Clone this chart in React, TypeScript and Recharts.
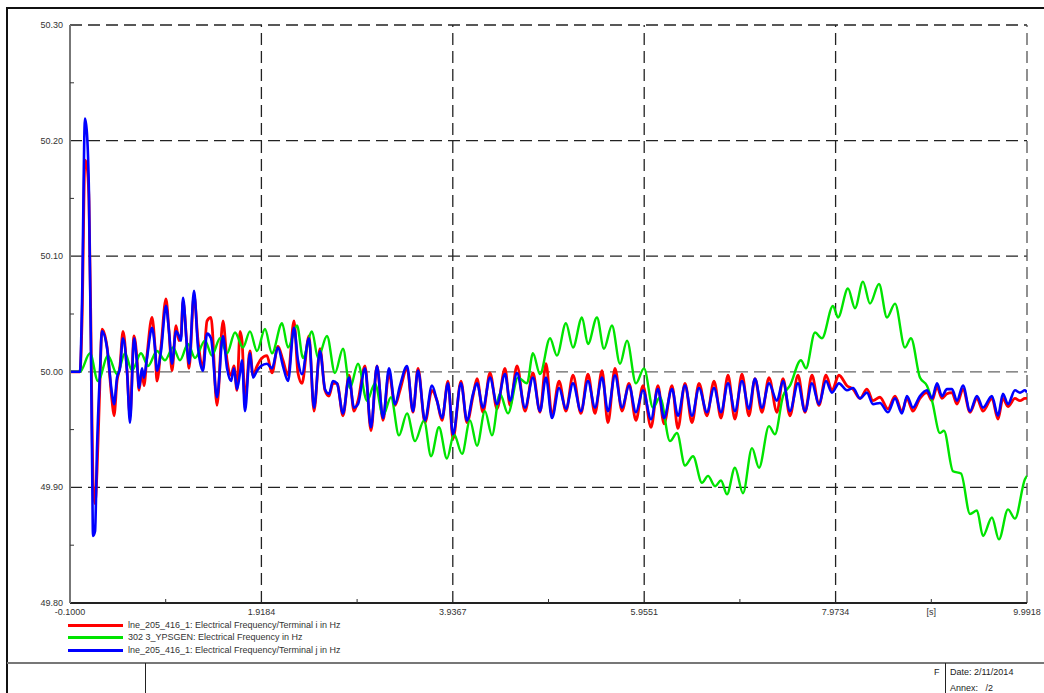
import { LineChart, Line, XAxis, YAxis, ReferenceLine } from "recharts";

// time stamps [s] of the traced extrema, shared by the two line terminals
const rbTime = [
  -0.1, 0.005, 0.027, 0.058, 0.079, 0.1, 0.121, 0.132, 0.143, 0.164,
  0.185, 0.216, 0.237, 0.29, 0.343, 0.364, 0.396, 0.427, 0.459, 0.501,
  0.533, 0.575, 0.607, 0.628, 0.659, 0.68, 0.712, 0.765, 0.796, 0.817,
  0.86, 0.912, 0.944, 0.976, 1.018, 1.049, 1.07, 1.092, 1.134, 1.155,
  1.208, 1.25, 1.302, 1.345, 1.387, 1.45, 1.513, 1.556, 1.598, 1.629,
  1.661, 1.693, 1.714, 1.745, 1.798, 1.83, 1.872, 1.914, 1.977, 2.03,
  2.093, 2.146, 2.199, 2.262, 2.304, 2.346, 2.42, 2.473, 2.536, 2.589,
  2.631, 2.673, 2.716, 2.779, 2.842, 2.895, 2.937, 3.011, 3.074, 3.137,
  3.201, 3.264, 3.327, 3.38, 3.454, 3.517, 3.57, 3.643, 3.717, 3.77,
  3.823, 3.886, 3.939, 4.023, 4.086, 4.15, 4.192, 4.255, 4.329, 4.403,
  4.487, 4.54, 4.614, 4.698, 4.782, 4.856, 4.919, 4.983, 5.057, 5.13,
  5.204, 5.288, 5.362, 5.436, 5.51, 5.573, 5.647, 5.721, 5.795, 5.868,
  5.942, 6.027, 6.1, 6.164, 6.248, 6.311, 6.385, 6.459, 6.533, 6.617,
  6.691, 6.765, 6.839, 6.912, 6.986, 7.06, 7.123, 7.197, 7.271, 7.355,
  7.419, 7.492, 7.577, 7.651, 7.724, 7.798, 7.872, 7.935, 8.009, 8.093,
  8.157, 8.231, 8.304, 8.368, 8.441, 8.526, 8.6, 8.673, 8.726, 8.789,
  8.863, 8.937, 8.99, 9.043, 9.095, 9.148, 9.201, 9.253, 9.317, 9.391,
  9.464, 9.528, 9.622, 9.686, 9.738, 9.791, 9.865, 9.918, 9.97, 9.992,
];

// lne_205_416_1, terminal i [Hz]
const redHz = [
  50.0, 50.0, 50.044, 50.183, 50.178, 50.148, 50.035, 49.958, 49.906, 49.886,
  49.914, 49.992, 50.037, 50.022, 49.975, 49.962, 49.992, 50.005, 50.035, 50.001,
  49.962, 50.031, 50.01, 49.984, 50.001, 49.988, 50.014, 50.047, 50.022, 49.992,
  50.022, 50.063, 50.035, 50.001, 50.04, 50.027, 50.031, 50.061, 50.022, 50.003,
  50.066, 50.027, 50.005, 50.044, 50.047, 49.971, 50.044, 50.01, 49.997, 50.005,
  49.984, 50.035, 50.027, 49.975, 50.018, 49.997, 50.005, 50.011, 50.014, 49.999,
  50.022, 50.01, 49.997, 50.044, 49.999, 49.99, 50.031, 49.966, 50.02, 49.984,
  49.979, 49.99, 49.99, 49.962, 49.997, 49.966, 49.975, 50.005, 49.949, 50.005,
  49.958, 49.999, 49.971, 49.984, 50.003, 49.965, 50.003, 49.956, 49.984, 49.975,
  49.958, 49.992, 49.942, 49.992, 49.956, 49.979, 49.994, 49.965, 49.999, 49.968,
  50.003, 49.971, 50.005, 49.966, 49.999, 49.965, 50.007, 49.962, 49.992, 49.966,
  49.997, 49.964, 49.998, 49.964, 50.001, 49.956, 50.003, 49.966, 49.99, 49.958,
  49.988, 49.952, 49.988, 49.955, 49.988, 49.951, 49.99, 49.956, 49.99, 49.962,
  49.992, 49.96, 49.997, 49.959, 49.998, 49.962, 49.994, 49.965, 49.995, 49.965,
  49.994, 49.962, 49.997, 49.965, 49.997, 49.971, 49.997, 49.984, 49.997, 49.988,
  49.985, 49.977, 49.985, 49.975, 49.978, 49.968, 49.979, 49.966, 49.977, 49.966,
  49.977, 49.982, 49.975, 49.987, 49.977, 49.981, 49.982, 49.972, 49.985, 49.965,
  49.977, 49.966, 49.977, 49.959, 49.977, 49.97, 49.977, 49.975, 49.977, 49.977,
];

// lne_205_416_1, terminal j [Hz]
const blueHz = [
  50.0, 50.0, 50.061, 50.219, 50.206, 50.154, 50.018, 49.932, 49.858, 49.862,
  49.934, 50.0, 50.035, 50.021, 49.981, 49.972, 49.995, 50.003, 50.029, 50.001,
  49.956, 50.029, 50.007, 49.986, 50.003, 49.995, 50.012, 50.038, 50.021, 50.001,
  50.018, 50.057, 50.035, 50.007, 50.035, 50.031, 50.027, 50.064, 50.021, 50.007,
  50.07, 50.021, 50.001, 50.033, 50.029, 49.978, 50.031, 50.003, 49.992, 50.003,
  49.985, 49.999, 50.01, 49.966, 50.016, 49.995, 50.001, 50.005, 50.007, 50.003,
  50.021, 50.005, 49.992, 50.038, 50.01, 49.998, 50.029, 49.969, 50.018, 49.985,
  49.981, 49.992, 49.99, 49.964, 49.995, 49.969, 49.972, 50.003, 49.952, 50.005,
  49.96, 50.003, 49.972, 49.988, 50.005, 49.966, 50.001, 49.958, 49.988, 49.975,
  49.96, 49.99, 49.946, 49.99, 49.958, 49.981, 49.99, 49.969, 49.995, 49.972,
  49.998, 49.975, 49.999, 49.969, 49.995, 49.966, 49.995, 49.96, 49.986, 49.968,
  49.99, 49.966, 49.992, 49.969, 49.995, 49.966, 49.997, 49.969, 49.988, 49.965,
  49.984, 49.959, 49.985, 49.96, 49.985, 49.962, 49.988, 49.962, 49.986, 49.965,
  49.986, 49.965, 49.99, 49.966, 49.992, 49.968, 49.994, 49.969, 49.99, 49.975,
  49.992, 49.966, 49.99, 49.966, 49.99, 49.972, 49.992, 49.982, 49.99, 49.984,
  49.986, 49.977, 49.982, 49.972, 49.973, 49.965, 49.977, 49.964, 49.979, 49.969,
  49.979, 49.984, 49.977, 49.99, 49.979, 49.985, 49.985, 49.975, 49.988, 49.966,
  49.979, 49.969, 49.979, 49.962, 49.981, 49.972, 49.984, 49.982, 49.984, 49.982,
];

// 302 3_YPSGEN
const greenTime = [
  -0.1, 0.005, 0.111, 0.195, 0.301, 0.396, 0.48, 0.554, 0.649, 0.723,
  0.817, 0.902, 0.986, 1.06, 1.144, 1.218, 1.324, 1.397, 1.482, 1.556,
  1.64, 1.724, 1.798, 1.872, 1.956, 2.03, 2.136, 2.199, 2.294, 2.357,
  2.452, 2.515, 2.61, 2.694, 2.779, 2.853, 2.937, 3.032, 3.116, 3.201,
  3.285, 3.369, 3.454, 3.538, 3.633, 3.707, 3.791, 3.875, 3.949, 4.034,
  4.118, 4.192, 4.276, 4.35, 4.434, 4.519, 4.624, 4.719, 4.782, 4.856,
  4.962, 5.035, 5.13, 5.204, 5.299, 5.362, 5.457, 5.531, 5.615, 5.7,
  5.774, 5.868, 5.953, 6.048, 6.122, 6.227, 6.301, 6.385, 6.47, 6.564,
  6.628, 6.702, 6.765, 6.828, 6.912, 6.997, 7.092, 7.166, 7.271, 7.334,
  7.419, 7.492, 7.608, 7.661, 7.756, 7.83, 7.946, 7.999, 8.104, 8.178,
  8.262, 8.336, 8.431, 8.515, 8.6, 8.705, 8.768, 8.863, 8.937, 8.99,
  9.074, 9.116, 9.211, 9.296, 9.391, 9.464, 9.528, 9.622, 9.696, 9.791,
  9.865, 9.97, 9.992,
];

const greenHz = [
  50.0, 50.0, 50.016, 49.992, 50.014, 49.998, 50.016, 50.001, 50.016, 50.005,
  50.018, 50.01, 50.021, 50.01, 50.024, 50.012, 50.027, 50.014, 50.029, 50.016,
  50.034, 50.021, 50.035, 50.018, 50.037, 50.016, 50.042, 50.021, 50.04, 50.012,
  50.035, 50.012, 50.031, 49.999, 50.02, 49.986, 50.007, 49.975, 49.99, 49.962,
  49.978, 49.945, 49.964, 49.94, 49.958, 49.927, 49.952, 49.925, 49.946, 49.929,
  49.958, 49.936, 49.966, 49.945, 49.981, 49.964, 49.995, 49.99, 50.016, 49.998,
  50.029, 50.014, 50.042, 50.021, 50.047, 50.024, 50.047, 50.02, 50.04, 50.007,
  50.027, 49.99, 50.003, 49.969, 49.978, 49.94, 49.947, 49.919, 49.927, 49.904,
  49.91, 49.901, 49.906, 49.894, 49.917, 49.895, 49.934, 49.917, 49.953, 49.946,
  49.979, 49.988, 50.01, 50.003, 50.034, 50.029, 50.057, 50.047, 50.072, 50.055,
  50.078, 50.059, 50.076, 50.047, 50.059, 50.021, 50.029, 49.995, 49.988, 49.975,
  49.947, 49.949, 49.914, 49.912, 49.877, 49.88, 49.858, 49.874, 49.855, 49.881,
  49.873, 49.907, 49.91,
];

const xMajor = [-0.1, 1.9184, 3.9367, 5.9551, 7.9734, 9.9918];
const xMinor = [0.9092, 2.9276, 4.9459, 6.9643, 8.9826];
const yMajor = [49.8, 49.9, 50.0, 50.1, 50.2, 50.3];
const yMinor = [49.85, 49.95, 50.05, 50.15, 50.25];
const xUnit = "[s]";

const legendNames = [
  "lne_205_416_1: Electrical Frequency/Terminal i in Hz",
  "302 3_YPSGEN: Electrical Frequency in Hz",
  "lne_205_416_1: Electrical Frequency/Terminal j in Hz",
];
const legendColors = ["#ff0000", "#00e400", "#0000ff"];

const FONT = "'Liberation Sans', Arial, sans-serif";

const redData = rbTime.map((t, i) => ({ t, v: redHz[i] }));
const blueData = rbTime.map((t, i) => ({ t, v: blueHz[i] }));
const greenData = greenTime.map((t, i) => ({ t, v: greenHz[i] }));

function XTick(props: any) {
  const { x, y, payload } = props;
  const v = payload.value;
  const major = xMajor.includes(v);
  let label = "";
  if (major) label = v.toFixed(4);
  else if (v === xMinor[xMinor.length - 1]) label = xUnit;
  return (
    <g>
      {!major && <line x1={x} y1={y} x2={x} y2={y - 4} stroke="#333" strokeWidth={1} />}
      {label && (
        <text x={x} y={y + 12} textAnchor="middle" fontSize={9} fill="#333" fontFamily={FONT}>
          {label}
        </text>
      )}
    </g>
  );
}

function YTick(props: any) {
  const { x, y, payload } = props;
  const v = payload.value;
  const major = yMajor.some((m) => Math.abs(m - v) < 1e-9);
  return (
    <g>
      {!major && <line x1={x} y1={y} x2={x + 4} y2={y} stroke="#333" strokeWidth={1} />}
      {major && (
        <text x={x - 7} y={y + 3} textAnchor="end" fontSize={9} fill="#333" fontFamily={FONT}>
          {v.toFixed(2)}
        </text>
      )}
    </g>
  );
}

export default function App() {
  const dash = "12 6";
  return (
    <div style={{ position: "absolute", left: 0, top: 0, width: 1044, height: 693, background: "#fff", fontFamily: FONT, overflow: "hidden" }}>
      {/* outer page frame */}
      <div style={{ position: "absolute", left: 7, top: 7, width: 1040, height: 2, background: "#111" }} />
      <div style={{ position: "absolute", left: 6, top: 7, width: 2, height: 690, background: "#111" }} />

      <div style={{ position: "absolute", left: 0, top: 0 }}>
        <LineChart width={1044} height={693} margin={{ top: 25, right: 17, bottom: 70, left: 8 }}>
          <XAxis
            dataKey="t"
            type="number"
            domain={[-0.1, 9.9918]}
            ticks={[...xMajor, ...xMinor].sort((a, b) => a - b)}
            allowDataOverflow
            height={20}
            tickSize={0}
            tickMargin={0}
            tickLine={false}
            tick={<XTick />}
            axisLine={{ stroke: "#222", strokeWidth: 2 }}
            interval={0}
          />
          <YAxis
            type="number"
            domain={[49.8, 50.3]}
            ticks={[...yMajor, ...yMinor].sort((a, b) => a - b)}
            allowDataOverflow
            width={62}
            tickSize={0}
            tickMargin={0}
            tickLine={false}
            tick={<YTick />}
            axisLine={{ stroke: "#777", strokeWidth: 2 }}
            interval={0}
          />
          {yMajor.slice(1).map((v) => (
            <ReferenceLine key={"h" + v} y={v} stroke={v === 50 ? "#666" : "#222"} strokeDasharray={dash} strokeWidth={1.3} />
          ))}
          {xMajor.slice(1).map((v) => (
            <ReferenceLine key={"v" + v} x={v} stroke={v === 9.9918 ? "#555" : "#222"} strokeDasharray={dash} strokeWidth={1.3} />
          ))}
          <Line data={redData} dataKey="v" type="monotone" stroke="#ff0000" strokeWidth={2.8} dot={false} isAnimationActive={false} />
          <Line data={greenData} dataKey="v" type="monotone" stroke="#00e400" strokeWidth={2.4} dot={false} isAnimationActive={false} />
          <Line data={blueData} dataKey="v" type="monotone" stroke="#0000ff" strokeWidth={2.6} dot={false} isAnimationActive={false} />
        </LineChart>
      </div>

      {/* legend */}
      {legendNames.map((name, i) => (
        <div key={i}>
          <div style={{ position: "absolute", left: 68, top: 624 + i * 12.3, width: 55, height: 3, background: legendColors[i] }} />
          <div style={{ position: "absolute", left: 128, top: 619 + i * 12.3, fontSize: 9, color: "#333", whiteSpace: "nowrap", lineHeight: "12px" }}>
            {name}
          </div>
        </div>
      ))}

      {/* title block */}
      <div style={{ position: "absolute", left: 7, top: 662, width: 1040, height: 2, background: "#777" }} />
      <div style={{ position: "absolute", left: 145, top: 663, width: 1, height: 30, background: "#222" }} />
      <div style={{ position: "absolute", left: 945, top: 663, width: 1, height: 30, background: "#222" }} />
      <div style={{ position: "absolute", left: 934, top: 666, fontSize: 9, color: "#222", lineHeight: "12px" }}>F</div>
      <div style={{ position: "absolute", left: 950, top: 666, fontSize: 9, color: "#222", lineHeight: "12px", whiteSpace: "nowrap" }}>Date: 2/11/2014</div>
      <div style={{ position: "absolute", left: 950, top: 682, fontSize: 9, color: "#222", lineHeight: "12px", whiteSpace: "pre" }}>{"Annex:   /2"}</div>
    </div>
  );
}
